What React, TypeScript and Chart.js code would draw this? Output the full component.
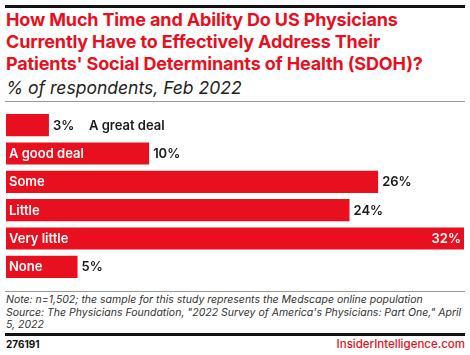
import React, { useEffect, useRef } from "react";
import { Chart, registerables } from "chart.js";

Chart.register(...registerables);

const categories = ["A great deal", "A good deal", "Some", "Little", "Very little", "None"];
const values = [3, 10, 26, 24, 32, 5];
const valueLabels = ["3%", "10%", "26%", "24%", "32%", "5%"];

const RED = "#e8101e";
const FONT = "Inter, 'Noto Sans', sans-serif";

const labelPlugin = {
  id: "barLabels",
  afterDatasetsDraw(chart: any) {
    const ctx = chart.ctx;
    const meta = chart.getDatasetMeta(0);
    ctx.save();
    ctx.textBaseline = "middle";
    meta.data.forEach((bar: any, i: number) => {
      const left = bar.base;
      const right = bar.x;
      const y = bar.y + 0.5;
      ctx.font = `600 13px ${FONT}`;
      const catW = ctx.measureText(categories[i]).width;
      const valW = ctx.measureText(valueLabels[i]).width;
      const barW = right - left;
      const catFits = catW + 8 < barW;
      if (catFits) {
        ctx.fillStyle = "#ffffff";
        ctx.textAlign = "left";
        ctx.fillText(categories[i], left + 3, y);
        if (right > chart.chartArea.right - 30) {
          ctx.textAlign = "right";
          ctx.fillText(valueLabels[i], right - 3, y);
        } else {
          ctx.fillStyle = "#1a1a1a";
          ctx.textAlign = "left";
          ctx.fillText(valueLabels[i], right + 4, y);
        }
      } else {
        ctx.fillStyle = "#1a1a1a";
        ctx.textAlign = "left";
        ctx.fillText(valueLabels[i], right + 4, y);
        ctx.fillText(categories[i], right + 40, y);
      }
    });
    ctx.restore();
  },
};

export default function App() {
  const ref = useRef<HTMLCanvasElement>(null);
  useEffect(() => {
    if (!ref.current) return;
    const chart = new Chart(ref.current, {
      type: "bar",
      data: {
        labels: categories,
        datasets: [
          {
            data: values,
            backgroundColor: RED,
            borderWidth: 0,
            barPercentage: 0.78,
            categoryPercentage: 1,
          },
        ],
      },
      options: {
        indexAxis: "y",
        animation: false,
        responsive: false,
        maintainAspectRatio: false,
        layout: { padding: { left: 6, right: 6, top: 6, bottom: 4 } },
        plugins: { legend: { display: false }, tooltip: { enabled: false } },
        scales: {
          x: { display: false, min: 0, max: 32 },
          y: { display: false },
        },
      },
      plugins: [labelPlugin],
    });
    return () => chart.destroy();
  }, []);

  return (
    <div
      style={{
        position: "fixed",
        left: 0,
        top: 0,
        width: 470,
        height: 355,
        background: "#fff",
        fontFamily: FONT,
        overflow: "hidden",
      }}
    >
      <div style={{ position: "absolute", left: 5, top: 5, width: 460, height: 3, background: "#111" }} />
      <div
        style={{
          position: "absolute",
          left: 6,
          top: 9,
          width: 464,
          color: RED,
          fontWeight: 700,
          fontSize: 18,
          lineHeight: "22px",
          letterSpacing: -0.15,
          whiteSpace: "nowrap",
        }}
      >
        How Much Time and Ability Do US Physicians
        <br />
        Currently Have to Effectively Address Their
        <br />
        Patients' Social Determinants of Health (SDOH)?
      </div>
      <div
        style={{
          position: "absolute",
          left: 6,
          top: 77,
          color: "#222",
          fontStyle: "italic",
          fontSize: 17.5,
          lineHeight: "22px",
        }}
      >
        % of respondents, Feb 2022
      </div>
      <div style={{ position: "absolute", left: 5, top: 101, width: 460, height: 1, background: "#999" }} />
      <canvas ref={ref} width={470} height={180} style={{ position: "absolute", left: 0, top: 105, width: 470, height: 180 }} />
      <div style={{ position: "absolute", left: 5, top: 291, width: 460, height: 1, background: "#999" }} />
      <div
        style={{
          position: "absolute",
          left: 6,
          top: 294,
          width: 464,
          color: "#333",
          fontStyle: "italic",
          fontSize: 10.5,
          lineHeight: "12.5px",
          whiteSpace: "nowrap",
        }}
      >
        Note: n=1,502; the sample for this study represents the Medscape online population
        <br />
        Source: The Physicians Foundation, "2022 Survey of America's Physicians: Part One," April
        <br />
        5, 2022
      </div>
      <div style={{ position: "absolute", left: 5, top: 333, width: 460, height: 3, background: "#111" }} />
      <div
        style={{
          position: "absolute",
          left: 6,
          top: 338,
          color: "#111",
          fontWeight: 700,
          fontSize: 10,
          lineHeight: "12px",
        }}
      >
        276191
      </div>
      <div
        style={{
          position: "absolute",
          right: 5,
          top: 337,
          color: RED,
          fontWeight: 500,
          fontSize: 11.5,
          lineHeight: "14px",
        }}
      >
        InsiderIntelligence.com
      </div>
    </div>
  );
}
